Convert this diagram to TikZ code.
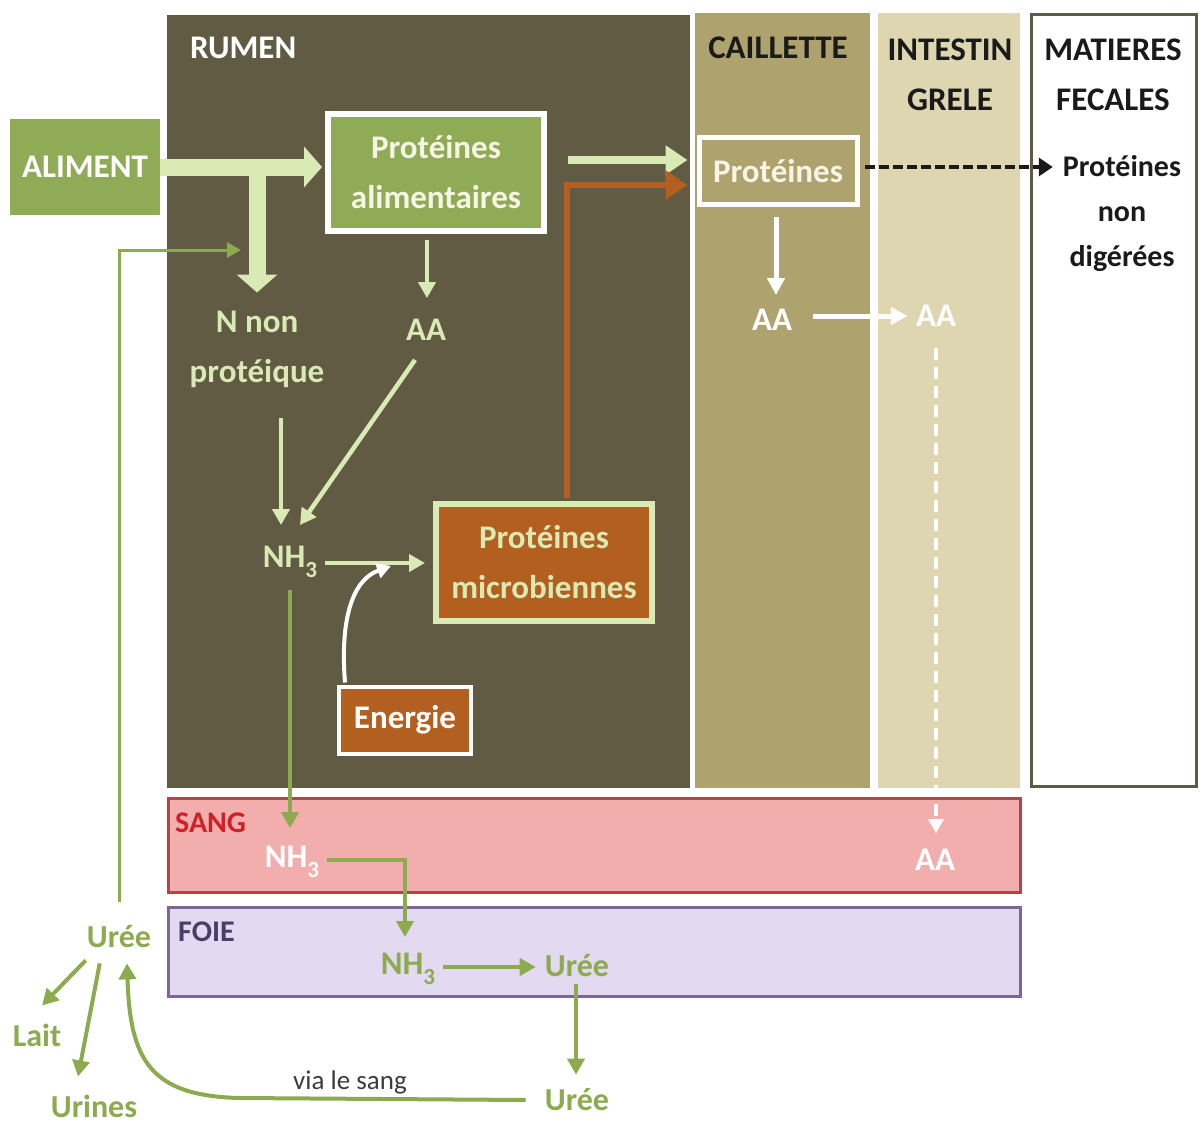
\documentclass[tikz,border=0pt]{standalone}
\usepackage{fontspec}
\setmainfont{Carlito}
\usetikzlibrary{arrows.meta,calc}
\definecolor{rumen}{HTML}{615B44}
\definecolor{caill}{HTML}{AEA36E}
\definecolor{intest}{HTML}{DED6B1}
\definecolor{fecb}{HTML}{5F5A44}
\definecolor{gbox}{HTML}{8FAB55}
\definecolor{lgreen}{HTML}{DAEAB4}
\definecolor{dgreen}{HTML}{8CAA4E}
\definecolor{brown}{HTML}{B35F1F}
\definecolor{sangf}{HTML}{F2ADAD}
\definecolor{sangb}{HTML}{B54545}
\definecolor{sangt}{HTML}{D01F26}
\definecolor{foief}{HTML}{E3D9F1}
\definecolor{foieb}{HTML}{7C679B}
\definecolor{foiet}{HTML}{4A3E66}
\definecolor{cream}{HTML}{F7F5E6}
\definecolor{blk}{HTML}{1A1A1A}
\newcommand\fa{\bfseries\fontsize{33}{50}\selectfont}
\newcommand\fb{\bfseries\fontsize{30}{45}\selectfont}
\newcommand\fc{\bfseries\fontsize{32}{40}\selectfont}
\newcommand\nhtrois{NH\raisebox{-10pt}{\fontsize{23}{23}\selectfont 3}}
\tikzset{
  txt/.style={inner sep=0pt, font=\fa, align=center},
  bigarr/.style={draw=lgreen, line width=17pt, -{Triangle[width=40pt,length=18pt]}},
  lg/.style={draw=lgreen, line width=4.5pt, -{Triangle[width=17pt,length=16pt]}},
  dg/.style={draw=dgreen, line width=4pt, -{Triangle[width=17pt,length=16pt]}},
  wh/.style={draw=white, line width=5pt, -{Triangle[width=17pt,length=17pt]}},
}
\begin{document}
\begin{tikzpicture}[x=1pt,y=-1pt]
\useasboundingbox (0,0) rectangle (1203,1124);
% panels
\fill[rumen] (167,15) rectangle (690,788);
\fill[caill] (695,13) rectangle (870,788);
\fill[intest] (878,13) rectangle (1020,788);
\draw[fecb, line width=3pt, fill=white] (1031.5,14.5) rectangle (1196.5,786.5);
\draw[sangb, line width=3pt, fill=sangf] (168.5,798.5) rectangle (1020.5,892.5);
\draw[foieb, line width=3pt, fill=foief] (168.5,907.5) rectangle (1020.5,996.5);
% panel labels
\node[txt, anchor=west, text=white] (lrumen) at (190,48) {RUMEN};
\node[txt, text=blk] (lcail) at (778,48) {CAILLETTE};
\node[txt, text=blk] (lint) at (950,75) {INTESTIN\\GRELE};
\node[txt, text=blk] (lmat) at (1113,75) {MATIERES\\FECALES};
\node[txt, font=\fb, text=sangt, anchor=west] (lsang) at (175,823) {SANG};
\node[txt, font=\fb, text=foiet, anchor=west] (lfoie) at (178,932) {FOIE};
% boxes
\node[txt, fill=gbox, text=white, minimum width=150pt, minimum height=96pt] (alim) at (85,167) {ALIMENT};
\node[txt, fill=gbox, draw=white, line width=6pt, text=cream, minimum width=216pt, minimum height=117pt] (pa) at (436,172) {Protéines\\alimentaires};
\node[txt, fill=brown, draw=lgreen, line width=6pt, text=lgreen, minimum width=216pt, minimum height=117pt] (pm) at (544,562) {Protéines\\microbiennes};
\node[txt, fill=brown, draw=white, line width=4pt, text=white, minimum width=132pt, minimum height=67pt] (en) at (405,720) {Energie};
\node[txt, fill=caill, draw=white, line width=5pt, text=cream, minimum width=158pt, minimum height=67pt] (pc) at (778,171) {Protéines};
% text nodes
\node[txt, text=lgreen] (nnp) at (257,349) {N non\\protéique};
\node[txt, text=lgreen] (aa1) at (426,330) {AA};
\node[txt, text=lgreen] (nh3a) at (290,562) {\nhtrois};
\node[txt, text=white] (aa2) at (772,320) {AA};
\node[txt, text=white] (aa3) at (936,316) {AA};
\node[txt, font=\fb, text=blk, align=center] (pnd) at (1122,214) {Protéines\\non\\digérées};
\node[txt, text=white] (nh3b) at (292,862) {\nhtrois};
\node[txt, text=white] (aa4) at (935,860) {AA};
\node[txt, text=dgreen] (nh3c) at (408,969) {\nhtrois};
\node[txt, font=\fc, text=dgreen] (uree1) at (577,966) {Urée};
\node[txt, font=\fc, text=dgreen] (uree2) at (577,1100) {Urée};
\node[txt, font=\fc, text=dgreen] (uree3) at (119,937) {Urée};
\node[txt, font=\fc, text=dgreen] (lait) at (37,1035) {Lait};
\node[txt, font=\fc, text=dgreen] (urines) at (94,1106) {Urines};
\node[txt, font=\mdseries\fontsize{27}{30}\selectfont, text=blk!85] (via) at (350,1082) {via le sang};
% coordinates
\coordinate (tj) at (257,167);
\coordinate (joinE) at (391,566);
\coordinate (nnpin) at (241,250);
% connectors
\draw[bigarr] (alim.east |- tj) -- ([shift={(-3,0)}]pa.west |- tj);
\draw[bigarr] (tj) -- ([shift={(0,-18)}]nnp.north);
\draw[lg] ([shift={(-9,6)}]pa.south) -- ([shift={(1,-21)}]aa1.north);
\draw[lg] ([shift={(-11,19)}]aa1.south) -- ([shift={(10,-21)}]nh3a.north);
\draw[lg] ([shift={(24,31)}]nnp.south) -- ([shift={(-9,-21)}]nh3a.north);
\draw[lg] ([shift={(8,1)}]nh3a.east) -- ([shift={(-8,1)}]pm.west);
\draw[draw=white, line width=4pt, -{Triangle[width=15pt,length=14pt]}] ([shift={(-60,-2)}]en.north) .. controls (340,620) and (352,580) .. (joinE);
\draw[draw=lgreen, line width=8pt, -{Triangle[width=28pt,length=22pt]}] ([shift={(21,-12)}]pa.east) -- ([shift={(-9,-11)}]pc.west);
\draw[draw=brown, line width=6pt, -{Triangle[width=28pt,length=22pt]}] ([shift={(23,-3)}]pm.north) |- ([shift={(-9,14)}]pc.west);
\draw[draw=blk, line width=4pt, dash pattern=on 10pt off 4pt, -{Triangle[width=18pt,length=14pt]}] ([shift={(5,-4)}]pc.east) -- ([shift={(-10,-4)}]pc.east -| pnd.west);
\draw[wh] ([shift={(-2,10)}]pc.south) -- ([shift={(4,-14)}]aa2.north);
\draw[wh] ([shift={(21,-4)}]aa2.east) -- ([shift={(-8,0)}]aa3.west);
\draw[draw=white, line width=4pt, dash pattern=on 12pt off 7pt, -{Triangle[width=15pt,length=14pt]}] ([shift={(0,21)}]aa3.south) -- ([shift={(1,-16)}]aa4.north);
\draw[dg] ([shift={(0,12)}]nh3a.south) -- ([shift={(-2,-18)}]nh3b.north);
\draw[dg] ([shift={(8,-2)}]nh3b.east) -| ([shift={(-3,-16)}]nh3c.north);
\draw[dg] ([shift={(8,-2)}]nh3c.east) -- ([shift={(-9,1)}]uree1.west);
\draw[dg] ([shift={(-1,7)}]uree1.south) -- ([shift={(-1,-14)}]uree2.north);
\draw[dg] ([shift={(-19,0)}]uree2.west) -- (240,1098) .. controls (150,1096) and (130,1060) .. ([shift={(8,15)}]uree3.south);
\draw[draw=dgreen, line width=3pt, -{Triangle[width=15pt,length=14pt]}] ([shift={(0,-24)}]uree3.north) -- (uree3.north |- nnpin) -- (nnpin);
\draw[dg] ([shift={(-1,12)}]uree3.south west) -- ([shift={(5,-18)}]lait.north);
\draw[dg] ([shift={(13,15)}]uree3.south west) -- ([shift={(-16,-18)}]urines.north);
\end{tikzpicture}
\end{document}
